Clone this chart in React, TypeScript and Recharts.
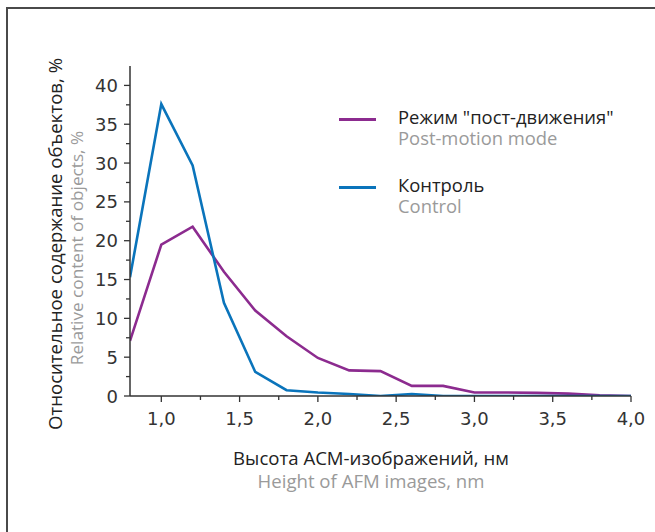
import React from 'react';
import { LineChart, Line, XAxis, YAxis, Legend } from 'recharts';

// AFM image height, nm
const heights = [0.8, 1.0, 1.2, 1.4, 1.6, 1.8, 2.0, 2.2, 2.4, 2.6, 2.8, 3.0, 3.2, 3.4, 3.6, 3.8, 4.0];
// relative content of objects, %
const postMotion = [7.1, 19.5, 21.8, 16.0, 11.0, 7.7, 4.9, 3.3, 3.2, 1.3, 1.3, 0.45, 0.45, 0.4, 0.3, 0.1, 0];
const control = [15.3, 37.6, 29.7, 12.0, 3.1, 0.75, 0.45, 0.25, 0, 0.25, 0, 0, 0, 0, 0, 0, 0];

const xTicks = [1.0, 1.25, 1.5, 1.75, 2.0, 2.25, 2.5, 2.75, 3.0, 3.25, 3.5, 3.75, 4.0];
const yTicks = [0, 2.5, 5, 7.5, 10, 12.5, 15, 17.5, 20, 22.5, 25, 27.5, 30, 32.5, 35, 37.5, 40];

const seriesKeys = ['post', 'ctrl'];
const seriesNames = ['Режим "пост-движения"', 'Контроль'];
const seriesSubtitles = ['Post-motion mode', 'Control'];

const PURPLE = '#8c2b8f';
const BLUE = '#0a74bb';
const AXIS = '#333';
const TEXT_FONT = '"Open Sans", sans-serif';
const TICK_FONT = '"DejaVu Sans", sans-serif';

const data = heights.map((h, i) => ({ h, post: postMotion[i], ctrl: control[i] }));

const isMajor = (v: number, step: number) => Math.abs(v / step - Math.round(v / step)) < 1e-6;

const XTick = (props: any) => {
  const { x, y, payload } = props;
  const v = payload.value as number;
  const major = isMajor(v, 0.5);
  return (
    <g>
      <line x1={x} y1={y} x2={x} y2={y + (major ? 6 : 4)} stroke={AXIS} strokeWidth={1.3} />
      {major && (
        <text x={x} y={y + 29} textAnchor="middle" fill="#333" fontSize={18} fontFamily={TICK_FONT}>
          {v.toFixed(1).replace('.', ',')}
        </text>
      )}
    </g>
  );
};

const YTick = (props: any) => {
  const { x, y, payload } = props;
  const v = payload.value as number;
  const major = isMajor(v, 5);
  return (
    <g>
      <line x1={x} y1={y} x2={x - (major ? 6 : 4)} y2={y} stroke={AXIS} strokeWidth={1.3} />
      {major && (
        <text x={x - 12} y={y + 6.5} textAnchor="end" fill="#333" fontSize={18} fontFamily={TICK_FONT}>
          {v}
        </text>
      )}
    </g>
  );
};

const LegendBox = (props: any) => {
  const items = [...(props.payload || [])].sort(
    (a: any, b: any) => seriesKeys.indexOf(a.dataKey) - seriesKeys.indexOf(b.dataKey)
  );
  return (
    <div style={{ fontFamily: TEXT_FONT }}>
      {items.map((item: any) => {
        const idx = seriesKeys.indexOf(item.dataKey);
        return (
          <div key={item.dataKey} style={{ position: 'relative', height: 68 }}>
            <div style={{ position: 'absolute', left: 0, top: 12, width: 37, height: 2.5, background: item.color }} />
            <div style={{ position: 'absolute', left: 59, top: 0, fontSize: 18.4, color: '#222', lineHeight: '21px', whiteSpace: 'nowrap' }}>
              {item.value}
            </div>
            <div style={{ position: 'absolute', left: 59, top: 21, fontSize: 18.4, color: '#9a9a9a', lineHeight: '21px', whiteSpace: 'nowrap' }}>
              {seriesSubtitles[idx]}
            </div>
          </div>
        );
      })}
    </div>
  );
};

export default function App() {
  return (
    <div style={{ position: 'absolute', left: 0, top: 0, width: 655, height: 532, overflow: 'hidden', background: '#fff' }}>
      <div
        style={{
          position: 'absolute',
          left: 6,
          top: 7,
          width: 700,
          height: 600,
          borderTop: '2px solid #4a4a4a',
          borderLeft: '2px solid #4a4a4a',
        }}
      />
      <LineChart
        width={655}
        height={532}
        data={data}
        margin={{ top: 66, right: 24, left: 0, bottom: 96 }}
        style={{ position: 'absolute', left: 0, top: 0 }}
      >
        <XAxis
          dataKey="h"
          type="number"
          domain={[0.8, 4.0]}
          ticks={xTicks}
          interval={0}
          height={40}
          tickSize={0}
          tickMargin={0}
          tickLine={false}
          axisLine={{ stroke: AXIS, strokeWidth: 1.5 }}
          tick={<XTick />}
          allowDataOverflow
        />
        <YAxis
          type="number"
          domain={[0, 42.5]}
          ticks={yTicks}
          interval={0}
          width={130}
          tickSize={0}
          tickMargin={0}
          tickLine={false}
          axisLine={{ stroke: AXIS, strokeWidth: 1.5 }}
          tick={<YTick />}
          allowDataOverflow
        />
        <Legend
          layout="vertical"
          align="center"
          verticalAlign="middle"
          wrapperStyle={{ left: 339, top: 106, width: 300 }}
          content={<LegendBox />}
        />
        <Line
          dataKey="post"
          name={seriesNames[0]}
          stroke={PURPLE}
          strokeWidth={2.6}
          dot={false}
          isAnimationActive={false}
        />
        <Line
          dataKey="ctrl"
          name={seriesNames[1]}
          stroke={BLUE}
          strokeWidth={2.6}
          dot={false}
          isAnimationActive={false}
        />
      </LineChart>
      <svg width={655} height={532} style={{ position: 'absolute', left: 0, top: 0, pointerEvents: 'none' }}>
        <text
          transform="translate(62,244) rotate(-90)"
          textAnchor="middle"
          fontSize={18.6}
          fill="#222"
          fontFamily={TEXT_FONT}
        >
          Относительное содержание объектов, %
        </text>
        <text
          transform="translate(83,248) rotate(-90)"
          textAnchor="middle"
          fontSize={17.2}
          fill="#9a9a9a"
          fontFamily={TEXT_FONT}
        >
          Relative content of objects, %
        </text>
        <text x={371} y={465} textAnchor="middle" fontSize={18.6} fill="#222" fontFamily={TEXT_FONT}>
          Высота АСМ-изображений, нм
        </text>
        <text x={371} y={488} textAnchor="middle" fontSize={18.6} fill="#9a9a9a" fontFamily={TEXT_FONT}>
          Height of AFM images, nm
        </text>
      </svg>
    </div>
  );
}
